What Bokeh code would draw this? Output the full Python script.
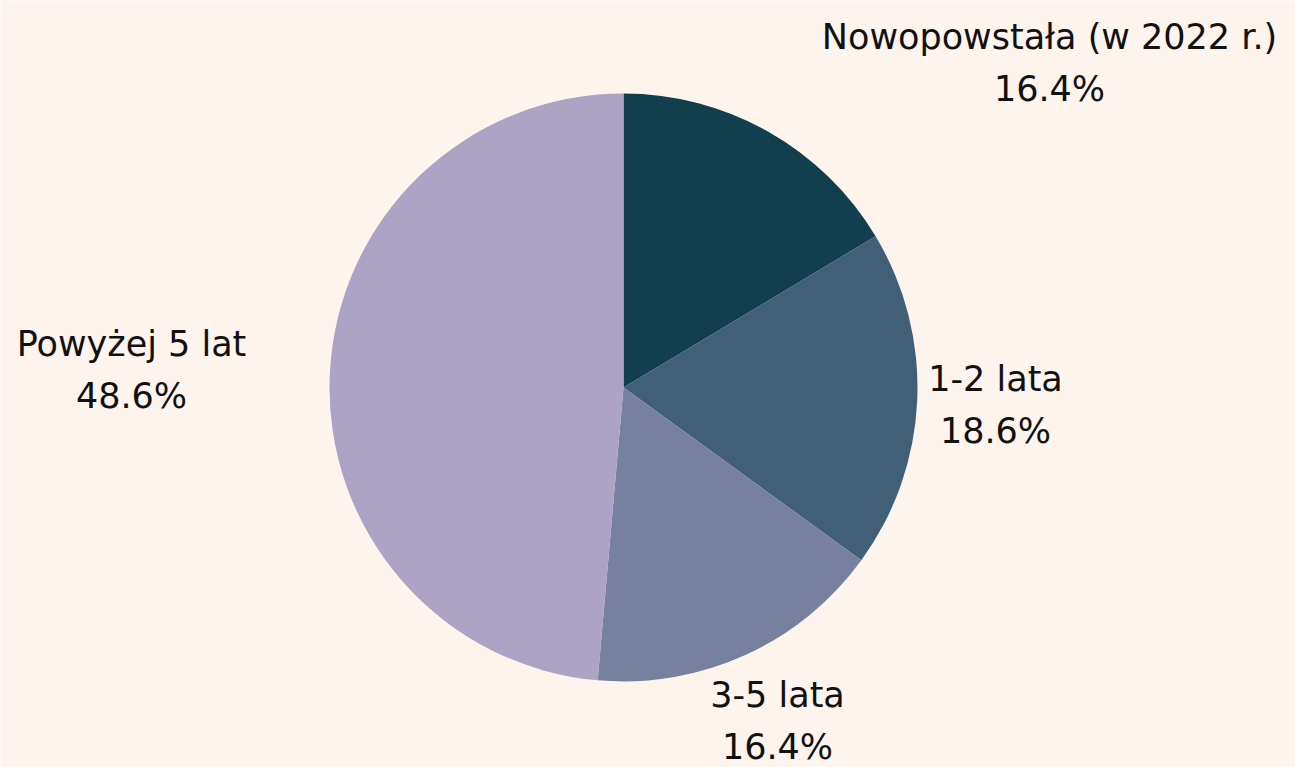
import math
from bokeh.plotting import figure
from bokeh.models import Range1d
from bokeh.core.properties import value
from bokeh.embed import file_html
from bokeh.resources import INLINE

# ---- data ----
categories = ["Nowopowstała (w 2022 r.)", "1-2 lata", "3-5 lata", "Powyżej 5 lat"]
shares = [16.4, 18.6, 16.4, 48.6]
colors = ["#113f4e", "#425f78", "#77809e", "#ada3c5"]

# ---- layout / style ----
W, H = 1295, 767
BG = "#fdf4ee"
CX, CY, R = 623, H - 387, 294
FONT = "DejaVu Sans"
FS = "35px"
LINE_GAP = 52
# label anchor (x, y of first line) in pixel coordinates from top-left
label_pos = [(1049, 36), (995, 378), (777, 694), (131, 343)]

p = figure(width=W, height=H, output_backend="svg", toolbar_location=None,
           x_range=Range1d(0, W), y_range=Range1d(0, H), min_border=0)
p.axis.visible = False
p.grid.visible = False
p.outline_line_color = None
p.background_fill_color = BG
p.border_fill_color = BG

total = sum(shares)
start = math.pi / 2
starts, ends = [], []
for s in shares:
    a = 2 * math.pi * s / total
    starts.append(start)
    ends.append(start - a)
    start -= a

p.wedge(x=[CX] * len(shares), y=[CY] * len(shares), radius=R,
        start_angle=starts, end_angle=ends, direction="clock",
        fill_color=colors, line_color=None)

xs = [lp[0] for lp in label_pos]
y1 = [H - lp[1] for lp in label_pos]
y2 = [H - lp[1] - LINE_GAP for lp in label_pos]
pcts = [f"{s:.1f}%" for s in shares]

p.text(x=xs, y=y1, text=categories, text_font=value(FONT), text_font_size=FS,
       text_align="center", text_baseline="alphabetic", text_color="#111111")
p.text(x=xs, y=y2, text=pcts, text_font=value(FONT), text_font_size=FS,
       text_align="center", text_baseline="alphabetic", text_color="#111111")

html = file_html(p, INLINE)
html = html.replace("<body", f'<body style="background-color:{BG};margin:0;"', 1)
open("out.html", "w").write(html)
